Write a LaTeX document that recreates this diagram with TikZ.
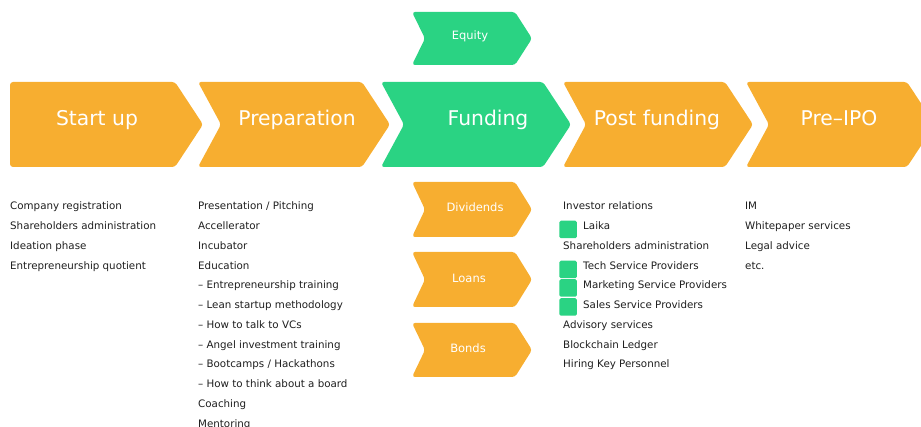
\documentclass[tikz,border=0pt]{standalone}
\usepackage{fontspec}
\setmainfont{DejaVu Sans}
\definecolor{chorange}{RGB}{247,174,48}
\definecolor{chgreen}{RGB}{42,211,131}
\definecolor{listtext}{RGB}{30,30,30}
\newcommand\chevshape[7]{% colour, left, notch, right, tip, top, bottom
  \fill[#1, rounded corners=3pt] (#2,#6) -- (#4,#6) -- (#5,{(#6+#7)/2}) -- (#4,#7) -- (#2,#7) -- (#3,{(#6+#7)/2}) -- cycle;}
\tikzset{
  biglabel/.style={anchor=base, text=white, inner sep=0pt, font=\fontsize{20.3}{24}\selectfont},
  smalllabel/.style={anchor=base, text=white, inner sep=0pt, font=\fontsize{11.5}{14}\selectfont},
  listitem/.style={anchor=base west, text=listtext, inner sep=0pt, font=\fontsize{10.3}{12}\selectfont},
  marker/.style={fill=chgreen, rounded corners=1.5pt, minimum size=17.5pt, inner sep=0pt},
}
\begin{document}
\begin{tikzpicture}[x=1pt, y=-1pt]
\useasboundingbox (0,0) rectangle (921,427);
\clip (0,0) rectangle (921,427);
% main chevrons
\chevshape{chorange}{10}{10}{175}{203}{82}{167}
\chevshape{chorange}{198}{221}{362}{390}{82}{167}
\chevshape{chgreen}{381}{404}{543}{571}{82}{167}
\chevshape{chorange}{563}{586}{725}{753}{82}{167}
\chevshape{chorange}{746}{769}{907}{935}{82}{167}
% small chevrons
\chevshape{chgreen}{412}{425}{515}{532}{12}{65}
\chevshape{chorange}{412}{425}{515}{532}{182}{237}
\chevshape{chorange}{412}{425}{515}{532}{252}{307}
\chevshape{chorange}{412}{425}{515}{532}{323}{377}
% labels
\node[biglabel] (startup) at (97,126) {Start up};
\node[biglabel] (prep) at (297,126) {Preparation};
\node[biglabel] (funding) at (488,126) {Funding};
\node[biglabel] (post) at (657,126) {Post funding};
\node[biglabel] (preipo) at (839,126) {Pre–IPO};
\node[smalllabel] (equity) at (470,40) {Equity};
\node[smalllabel] (dividends) at (475,211.7) {Dividends};
\node[smalllabel] (loans) at (469,282.3) {Loans};
\node[smalllabel] (bonds) at (468,352.3) {Bonds};
% column 1
\node[listitem] (a1) at (10,210) {Company registration};
\node[listitem] (a2) at (10,229.75) {Shareholders administration};
\node[listitem] (a3) at (10,249.5) {Ideation phase};
\node[listitem] (a4) at (10,269.25) {Entrepreneurship quotient};
% column 2
\node[listitem] (b1) at (198,210) {Presentation / Pitching};
\node[listitem] (b2) at (198,229.75) {Accellerator};
\node[listitem] (b3) at (198,249.5) {Incubator};
\node[listitem] (b4) at (198,269.25) {Education};
\node[listitem] (b5) at (198,289) {– Entrepreneurship training};
\node[listitem] (b6) at (198,308.75) {– Lean startup methodology};
\node[listitem] (b7) at (198,328.5) {– How to talk to VCs};
\node[listitem] (b8) at (198,348.25) {– Angel investment training};
\node[listitem] (b9) at (198,368) {– Bootcamps / Hackathons};
\node[listitem] (b10) at (198,387.75) {– How to think about a board};
\node[listitem] (b11) at (198,407.5) {Coaching};
\node[listitem] (b12) at (198,427.25) {Mentoring};
% column 3
\node[marker] (m1) at (568,229.5) {};
\node[marker] (m2) at (568,269.5) {};
\node[marker] (m3) at (568,288) {};
\node[marker] (m4) at (568,307) {};
\node[listitem] (c1) at (563,210) {Investor relations};
\node[listitem] (c2) at (583,229.75) {Laika};
\node[listitem] (c3) at (563,249.5) {Shareholders administration};
\node[listitem] (c4) at (583,269.25) {Tech Service Providers};
\node[listitem] (c5) at (583,289) {Marketing Service Providers};
\node[listitem] (c6) at (583,308.75) {Sales Service Providers};
\node[listitem] (c7) at (563,328.5) {Advisory services};
\node[listitem] (c8) at (563,348.25) {Blockchain Ledger};
\node[listitem] (c9) at (563,368) {Hiring Key Personnel};
% column 4
\node[listitem] (d1) at (745,210) {IM};
\node[listitem] (d2) at (745,229.75) {Whitepaper services};
\node[listitem] (d3) at (745,249.5) {Legal advice};
\node[listitem] (d4) at (745,269.25) {etc.};
\end{tikzpicture}
\end{document}
